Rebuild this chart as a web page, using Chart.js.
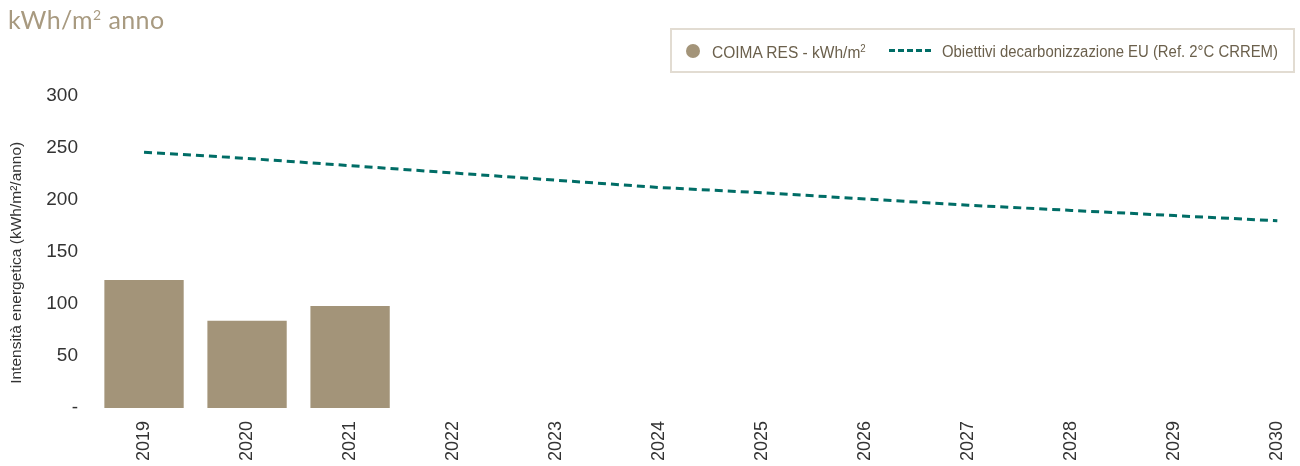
<!DOCTYPE html>
<html>
<head>
<meta charset="utf-8">
<script src="https://cdn.jsdelivr.net/npm/chart.js@4/dist/chart.umd.min.js"></script>
<style>
  html, body { margin: 0; padding: 0; background: #fff; overflow: hidden; }
  #wrap { position: relative; width: 1300px; height: 466px; }
  #title {
    position: absolute; left: 8px; top: 4px;
    font-family: "Lato", sans-serif; font-size: 25px; color: #a89a80;
    letter-spacing: 0.4px;
  }
  #title sup { font-size: 14px; vertical-align: 9px; }
  #legend {
    position: absolute; left: 670px; top: 28px; width: 621px; height: 41px;
    border: 2px solid #e2dcd2;
    font-family: "Liberation Sans", sans-serif;
    font-size: 16px; color: #6b604c;
  }
  #legend .item {
    position: absolute; top: 13px; white-space: nowrap;
    transform-origin: 0 0;
  }
  #legend .dot {
    position: absolute; left: 14px; top: 14px; width: 14px; height: 14px;
    border-radius: 50%; background: #a39479;
  }
  #legend .dash {
    position: absolute; left: 217px; top: 19px; width: 42px; height: 0;
    border-top: 3px dashed #006d66;
  }
  #legend sup { font-size: 10px; }
  canvas { position: absolute; left: 0; top: 0; }
</style>
</head>
<body>
<div id="wrap">
  <canvas id="chart" width="1300" height="466"></canvas>
  <div id="title">kWh/m<sup>2</sup> anno</div>
  <div id="legend">
    <span class="dot"></span>
    <span class="item" style="left:40px; transform: scaleX(0.97)">COIMA RES - kWh/m<sup>2</sup></span>
    <span class="dash"></span>
    <span class="item" style="left:270px; transform: scaleX(0.93)">Obiettivi decarbonizzazione EU (Ref. 2°C CRREM)</span>
  </div>
</div>
<script>
// anni e valori di intensità energetica
var years = [2019, 2020, 2021, 2022, 2023, 2024, 2025, 2026, 2027, 2028, 2029, 2030];
var coimaYears = [2019, 2020, 2021];
var coimaValues = [123, 84, 98];
var crremValues = [246, 240, 233, 226, 219, 212, 207, 201, 195, 190, 185, 180];
var yTicks = [0, 50, 100, 150, 200, 250, 300];

var xMin = 2018.495, xMax = 2030.22;

var barData = coimaYears.map(function (y, i) { return {x: y, y: coimaValues[i]}; });
var lineData = years.map(function (y, i) { return {x: y, y: crremValues[i]}; });

var ctx = document.getElementById('chart').getContext('2d');
var chart = new Chart(ctx, {
  data: {
    datasets: [
      {
        type: 'line',
        label: 'Obiettivi decarbonizzazione EU (Ref. 2°C CRREM)',
        data: lineData,
        borderColor: '#006d66',
        borderWidth: 3,
        borderDash: [8, 5],
        pointRadius: 0,
        fill: false,
        tension: 0
      },
      {
        type: 'bar',
        label: 'COIMA RES - kWh/m²',
        data: barData,
        backgroundColor: '#a39479',
        categoryPercentage: 0.77,
        barPercentage: 1.0
      }
    ]
  },
  options: {
    responsive: false,
    animation: false,
    layout: { padding: { top: 96, right: 0, left: 0, bottom: 0 } },
    plugins: {
      legend: { display: false },
      tooltip: { enabled: false }
    },
    scales: {
      x: {
        type: 'linear',
        offset: false,
        bounds: 'data',
        min: xMin,
        max: xMax,
        grid: { display: false },
        border: { display: false },
        afterBuildTicks: function (scale) {
          scale.ticks = years.map(function (v) { return {value: v}; });
          scale.min = xMin;
          scale.max = xMax;
        },
        afterFit: function (scale) {
          scale.height = 58;
          // l'area del grafico arriva fino al bordo destro
          scale.paddingLeft = 0;
          scale.paddingRight = 0;
        },
        ticks: {
          autoSkip: false,
          maxRotation: 90,
          minRotation: 90,
          padding: 5,
          color: '#333',
          font: { family: 'Liberation Sans', size: 18 },
          callback: function (v) { return String(v); }
        }
      },
      y: {
        min: 0,
        max: 300,
        grid: { display: false },
        border: { display: false },
        afterBuildTicks: function (scale) {
          scale.ticks = yTicks.map(function (v) { return {value: v}; });
        },
        afterFit: function (scale) { scale.width = 92; },
        ticks: {
          padding: 6,
          color: '#333',
          font: { family: 'Liberation Sans', size: 19 },
          callback: function (v) { return v === 0 ? '-' : v; }
        },
        title: {
          display: true,
          // spazi finali: abbassano leggermente il titolo lungo l'asse
          text: 'Intensità energetica (kWh/m²/anno)     ',
          color: '#333',
          padding: { top: 7, bottom: 0 },
          font: { family: 'Liberation Sans', size: 15.5 }
        }
      }
    }
  }
});
</script>
</body>
</html>
